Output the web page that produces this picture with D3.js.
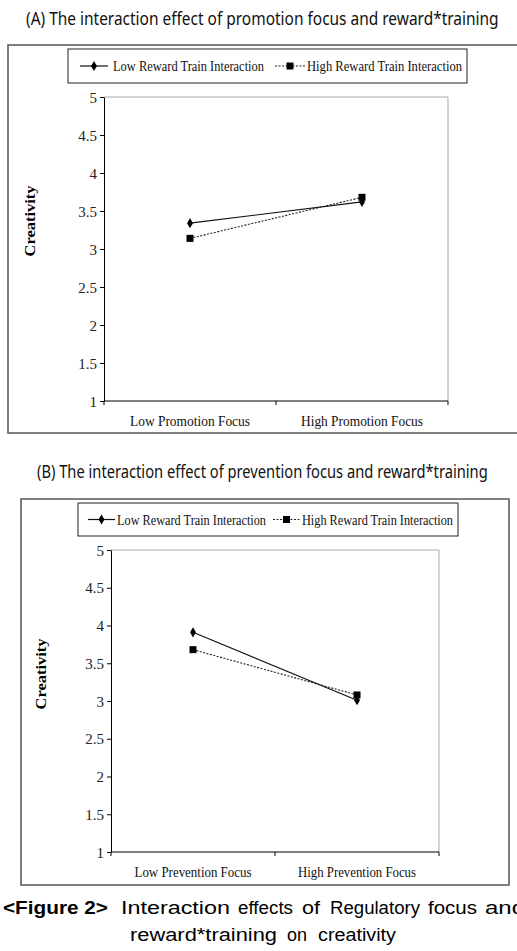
<!DOCTYPE html>
<html>
<head>
<meta charset="utf-8">
<script src="https://cdn.jsdelivr.net/npm/d3@7/dist/d3.min.js"></script>
<style>
  html, body { margin: 0; padding: 0; background: #fff; }
  svg { display: block; }
</style>
</head>
<body>
<svg id="chart" width="517" height="951"></svg>
<script>
// ---------------- DATA ----------------
const seriesNames = ["Low Reward Train Interaction", "High Reward Train Interaction"];
const yTicks = [1, 1.5, 2, 2.5, 3, 3.5, 4, 4.5, 5];
const yTickLabels = ["1", "1.5", "2", "2.5", "3", "3.5", "4", "4.5", "5"];
const yAxisTitle = "Creativity";

const titleA = "(A) The interaction effect of promotion focus and reward*training";
const promotionCategories = ["Low Promotion Focus", "High Promotion Focus"];
const promotionLowReward = [3.34, 3.62];
const promotionHighReward = [3.14, 3.68];

const titleB = "(B) The interaction effect of prevention focus and reward*training";
const preventionCategories = ["Low Prevention Focus", "High Prevention Focus"];
const preventionLowReward = [3.91, 3.01];
const preventionHighReward = [3.68, 3.08];

const captionLine1 = ["<Figure 2>", "Interaction", "effects", "of", "Regulatory", "focus", "and"];
const captionLine2 = ["reward*training", "on", "creativity"];

// ---------------- DRAW ----------------
const svg = d3.select("#chart");
const serif = "'Liberation Serif', 'Times New Roman', serif";

function drawPanel(o) {
  const g = svg.append("g");
  // title (horizontally condensed via scale to match reference width)
  const t = g.append("text")
    .attr("x", 0).attr("y", 0)
    .style("font-family", "'Noto Sans', 'Open Sans', sans-serif")
    .style("font-size", "18px").attr("fill", "#111")
    .text(o.title);
  const natural = t.node().getComputedTextLength();
  t.attr("transform", `translate(${o.titleX},${o.titleY}) scale(${o.titleW / natural},1)`);

  // outer box
  g.append("rect")
    .attr("x", o.box[0]).attr("y", o.box[1])
    .attr("width", o.box[2] - o.box[0]).attr("height", o.box[3] - o.box[1])
    .attr("fill", "none").attr("stroke", "#555").attr("stroke-width", 1.5);

  const x = d3.scaleBand().domain(o.categories).range([o.plot[0], o.plot[2]]).padding(0);
  const y = d3.scaleLinear().domain([1, 5]).range([o.plot[3], o.plot[1]]);

  // plot frame (top/right grey)
  g.append("path")
    .attr("d", `M${o.plot[0]},${o.plot[1]}H${o.plot[2]}V${o.plot[3]}`)
    .attr("fill", "none").attr("stroke", "#aaa").attr("stroke-width", 1);

  // y axis
  const yAxis = d3.axisLeft(y).tickValues(yTicks)
    .tickFormat((d, i) => yTickLabels[i]).tickSize(4).tickSizeOuter(0).tickPadding(3);
  const ya = g.append("g").attr("transform", `translate(${o.plot[0]},0)`).call(yAxis);
  ya.select(".domain").attr("stroke", "#000");
  ya.selectAll(".tick line").attr("stroke", "#000");
  ya.selectAll(".tick text")
    .style("font-family", serif).style("font-size", "15px").attr("fill", "#222")
    .attr("dy", "0.34em");

  // x axis line + ticks at band edges
  const edges = [o.plot[0]].concat(o.categories.map(c => x(c) + x.bandwidth()));
  g.append("line")
    .attr("x1", o.plot[0]).attr("x2", o.plot[2])
    .attr("y1", o.plot[3]).attr("y2", o.plot[3])
    .attr("stroke", "#000");
  g.selectAll(".xt").data(edges).enter().append("line")
    .attr("x1", d => d).attr("x2", d => d)
    .attr("y1", o.plot[3]).attr("y2", o.plot[3] + 4)
    .attr("stroke", "#000");
  g.selectAll(".xl").data(o.categories).enter().append("text")
    .attr("x", d => x(d) + x.bandwidth() / 2).attr("y", o.catY)
    .attr("text-anchor", "middle")
    .attr("textLength", (d, i) => o.catW[i]).attr("lengthAdjust", "spacingAndGlyphs")
    .style("font-family", serif).style("font-size", "15px").attr("fill", "#111")
    .text(d => d);

  // y title
  g.append("text")
    .attr("transform", `translate(${o.yTitleX},${o.yTitleY}) rotate(-90)`)
    .attr("text-anchor", "middle")
    .attr("textLength", 71).attr("lengthAdjust", "spacingAndGlyphs")
    .style("font-family", serif).style("font-size", "14px").style("font-weight", "bold")
    .text(yAxisTitle);

  // series
  const cx = c => x(c) + x.bandwidth() / 2;
  const line = d3.line().x(d => cx(d.c)).y(d => y(d.v));
  const lowPts = o.categories.map((c, i) => ({ c, v: o.low[i] }));
  const highPts = o.categories.map((c, i) => ({ c, v: o.high[i] }));

  g.append("path").datum(highPts).attr("d", line)
    .attr("fill", "none").attr("stroke", "#222").attr("stroke-width", 1.1)
    .attr("stroke-dasharray", "2,1.5");
  g.append("path").datum(lowPts).attr("d", line)
    .attr("fill", "none").attr("stroke", "#111").attr("stroke-width", 1.2);

  const diamond = d3.symbol().type(d3.symbolDiamond).size(30);
  g.selectAll(".dm").data(lowPts).enter().append("path")
    .attr("d", diamond)
    .attr("transform", d => `translate(${cx(d.c)},${y(d.v)})`)
    .attr("fill", "#000");
  g.selectAll(".sq").data(highPts).enter().append("rect")
    .attr("x", d => cx(d.c) - 3.5).attr("y", d => y(d.v) - 3.5)
    .attr("width", 7).attr("height", 7).attr("fill", "#000");

  // legend
  const L = o.legend;
  g.append("rect")
    .attr("x", L.box[0]).attr("y", L.box[1])
    .attr("width", L.box[2] - L.box[0]).attr("height", L.box[3] - L.box[1])
    .attr("fill", "#fff").attr("stroke", "#222").attr("stroke-width", 1);
  const ly = (L.box[1] + L.box[3]) / 2;
  // low reward
  g.append("line").attr("x1", L.l1[0]).attr("x2", L.l1[1]).attr("y1", ly).attr("y2", ly)
    .attr("stroke", "#111").attr("stroke-width", 1.2);
  g.append("path").attr("d", diamond)
    .attr("transform", `translate(${(L.l1[0] + L.l1[1]) / 2},${ly})`).attr("fill", "#000");
  g.append("text").attr("x", L.t1[0]).attr("y", ly + 5)
    .attr("textLength", L.t1[1]).attr("lengthAdjust", "spacingAndGlyphs")
    .style("font-family", serif).style("font-size", "15px").attr("fill", "#111")
    .text(seriesNames[0]);
  // high reward
  g.append("line").attr("x1", L.l2[0]).attr("x2", L.l2[1]).attr("y1", ly).attr("y2", ly)
    .attr("stroke", "#222").attr("stroke-width", 1.1).attr("stroke-dasharray", "2,1.5");
  g.append("rect")
    .attr("x", (L.l2[0] + L.l2[1]) / 2 - 3.5).attr("y", ly - 3.5)
    .attr("width", 7).attr("height", 7).attr("fill", "#000");
  g.append("text").attr("x", L.t2[0]).attr("y", ly + 5)
    .attr("textLength", L.t2[1]).attr("lengthAdjust", "spacingAndGlyphs")
    .style("font-family", serif).style("font-size", "15px").attr("fill", "#111")
    .text(seriesNames[1]);
}

drawPanel({
  title: titleA, titleX: 26, titleY: 25, titleW: 473,
  box: [8, 45, 530, 433],
  plot: [104, 97, 448, 401],
  categories: promotionCategories, low: promotionLowReward, high: promotionHighReward,
  catY: 426, catW: [120, 122],
  yTitleX: 35, yTitleY: 221,
  legend: { box: [68, 49, 467, 83], l1: [80, 108], t1: [113, 151], l2: [275, 305], t2: [307, 155] }
});

drawPanel({
  title: titleB, titleX: 37, titleY: 478, titleW: 451,
  box: [21, 499, 509, 885],
  plot: [111, 550, 439, 852],
  categories: preventionCategories, low: preventionLowReward, high: preventionHighReward,
  catY: 877, catW: [117, 118],
  yTitleX: 46, yTitleY: 674,
  legend: { box: [78, 503, 458, 536], l1: [88, 115], t1: [117, 149], l2: [273, 300], t2: [302, 151] }
});

// caption
const cap1X = [3, 121, 238, 302, 330, 428, 485];
const cap1W = [105, 109, 55, 18, 90, 49, 40];
const cap2X = [130, 287, 318];
const cap2W = [147, 20, 78];
const sans = "'Liberation Sans', Arial, sans-serif";
svg.selectAll(".c1").data(captionLine1).enter().append("text")
  .attr("x", (d, i) => cap1X[i]).attr("y", 914)
  .attr("textLength", (d, i) => cap1W[i]).attr("lengthAdjust", "spacingAndGlyphs")
  .style("font-family", sans).style("font-size", "17.5px")
  .style("font-weight", (d, i) => i === 0 ? "bold" : "normal")
  .attr("fill", "#000")
  .text(d => d);
svg.selectAll(".c2").data(captionLine2).enter().append("text")
  .attr("x", (d, i) => cap2X[i]).attr("y", 941)
  .attr("textLength", (d, i) => cap2W[i]).attr("lengthAdjust", "spacingAndGlyphs")
  .style("font-family", sans).style("font-size", "17.5px")
  .attr("fill", "#000")
  .text(d => d);
</script>
</body>
</html>
